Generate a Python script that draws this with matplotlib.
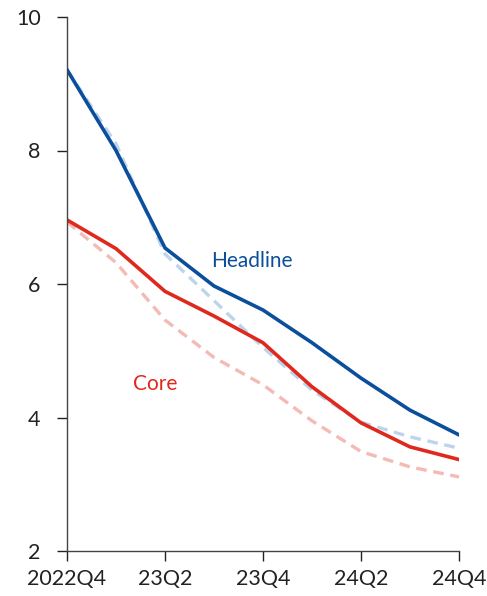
import matplotlib
matplotlib.use("Agg")
import matplotlib.pyplot as plt

quarters = ["2022Q4", "23Q1", "23Q2", "23Q3", "23Q4", "24Q1", "24Q2", "24Q3", "24Q4"]
tick_labels = ["2022Q4", "", "23Q2", "", "23Q4", "", "24Q2", "", "24Q4"]

headline = [9.21, 8.00, 6.54, 5.97, 5.61, 5.12, 4.59, 4.11, 3.74]
headline_prev = [9.21, 8.10, 6.45, 5.75, 5.05, 4.41, 3.93, 3.71, 3.54]
core = [6.96, 6.53, 5.89, 5.52, 5.12, 4.46, 3.92, 3.56, 3.37]
core_prev = [6.93, 6.32, 5.46, 4.90, 4.49, 3.95, 3.49, 3.26, 3.11]

blue = "#0b4f9c"
light_blue = "#bcd5ec"
red = "#e0291d"
pink = "#f4bbb6"

plt.rcParams['font.family'] = ['Lato', 'DejaVu Sans']

fig = plt.figure(figsize=(4.87, 5.96), dpi=100)
ax = fig.add_axes([67/487, 45/596, (459-67)/487, (551-17)/596])

x = list(range(len(quarters)))
ax.plot(x, headline_prev, color=light_blue, lw=2.4, ls=(0, (3.2, 2)))
ax.plot(x, core_prev, color=pink, lw=2.4, ls=(0, (3.2, 2)))
ax.plot(x, core, color=red, lw=2.6)
ax.plot(x, headline, color=blue, lw=2.6)

ax.text(2.95, 6.35, "Headline", color=blue, fontsize=15, ha='left', va='center')
ax.text(1.35, 4.5, "Core", color=red, fontsize=15, ha='left', va='center')

ax.set_xlim(0, 8)
ax.set_ylim(2, 10)
ax.set_yticks([2, 4, 6, 8, 10])
ax.set_xticks(x)
ax.set_xticklabels(tick_labels)
ax.tick_params(axis='both', labelsize=15.5, colors='#222222', length=7, width=1, direction='out')
for i, t in enumerate(ax.xaxis.get_major_ticks()):
    if tick_labels[i] == "":
        t.tick1line.set_visible(False)
ax.tick_params(axis='y', pad=12)
ax.tick_params(axis='x', pad=6)
for s in ['top', 'right']:
    ax.spines[s].set_visible(False)
for s in ['left', 'bottom']:
    ax.spines[s].set_color('#444444')
    ax.spines[s].set_linewidth(1)

fig.savefig("out.png", dpi=100)
